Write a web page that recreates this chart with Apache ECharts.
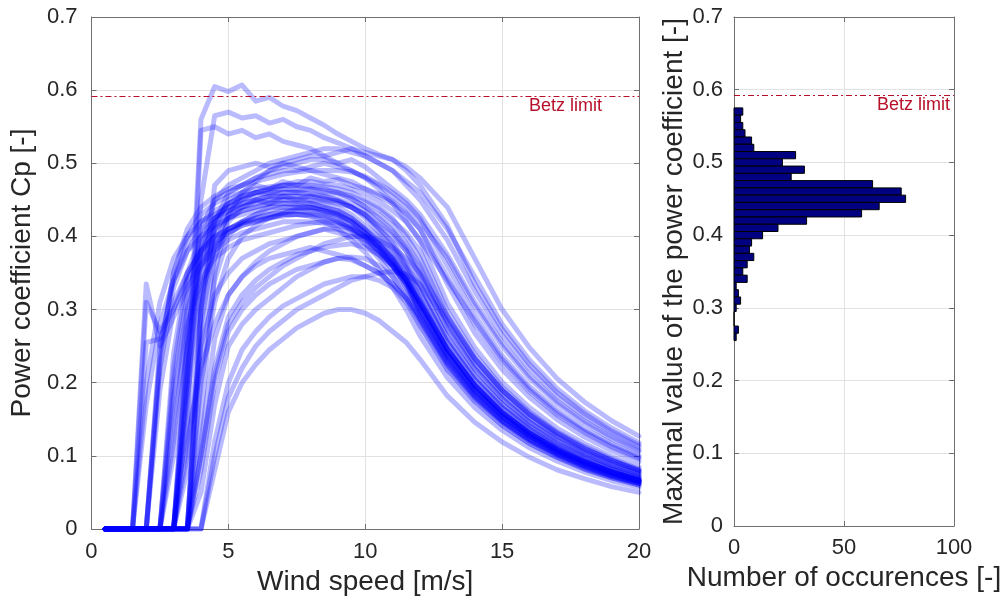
<!DOCTYPE html>
<html><head><meta charset="utf-8">
<script src="https://cdn.jsdelivr.net/npm/echarts@6/dist/echarts.min.js"></script>
<style>html,body{margin:0;padding:0;background:#fff}#c{width:1007px;height:603px}</style>
</head><body><div id="c"></div>
<script>
// ---------- data ----------
const WIND_SPEED = [0.5,1.5,2,2.5,3,3.5,4,4.5,5,5.5,6,6.5,7,7.5,8,8.5,9,9.5,10,10.5,11,11.5,12,13,14,15,16,17,18,19,20];

const CP_CURVES = [
  [0,0,0,0,0,0.2,0.56,0.605,0.598,0.607,0.585,0.59,0.578,0.572,0.562,0.552,0.54,0.53,0.52,0.512,0.505,0.49,0.47,0.415,0.335,0.273,0.225,0.187,0.158,0.134,0.115],
  [0,0,0,0,0,0.15,0.45,0.565,0.57,0.562,0.565,0.555,0.56,0.55,0.545,0.535,0.528,0.52,0.51,0.5,0.49,0.47,0.45,0.395,0.325,0.265,0.219,0.182,0.154,0.131,0.112],
  [0,0,0,0,0,0.15,0.545,0.55,0.54,0.545,0.535,0.54,0.53,0.525,0.52,0.51,0.5,0.49,0.48,0.47,0.455,0.44,0.42,0.37,0.305,0.25,0.206,0.172,0.145,0.123,0.106],
  [0,0,0,0,0.1,0.25,0.38,0.45,0.47,0.48,0.49,0.5,0.505,0.51,0.515,0.52,0.52,0.515,0.51,0.5,0.49,0.475,0.46,0.41,0.345,0.28,0.231,0.192,0.162,0.138,0.118],
  [0,0,0,0,0,0.08,0.3,0.42,0.46,0.47,0.48,0.49,0.495,0.5,0.505,0.505,0.5,0.505,0.495,0.48,0.465,0.45,0.43,0.375,0.31,0.255,0.21,0.175,0.148,0.126,0.108],
  [0,0,0,0,0.12,0.3,0.41,0.45,0.46,0.47,0.48,0.485,0.49,0.49,0.495,0.5,0.495,0.49,0.48,0.465,0.445,0.42,0.395,0.34,0.285,0.232,0.191,0.159,0.134,0.114,0.098],
  [0,0,0,0,0,0,0.15,0.35,0.43,0.46,0.475,0.49,0.5,0.505,0.51,0.51,0.515,0.52,0.515,0.51,0.505,0.495,0.48,0.44,0.37,0.3,0.248,0.206,0.174,0.148,0.127],
  [0,0,0,0.24,0.35,0.41,0.44,0.455,0.465,0.47,0.475,0.48,0.485,0.488,0.49,0.49,0.49,0.488,0.482,0.472,0.46,0.445,0.425,0.36,0.292,0.237,0.195,0.163,0.137,0.117,0.1],
  [0,0,0,0,0,0,0.3,0.41,0.45,0.46,0.47,0.465,0.475,0.47,0.48,0.475,0.478,0.47,0.465,0.458,0.448,0.432,0.41,0.335,0.268,0.218,0.18,0.15,0.126,0.107,0.092],
  [0,0,0,0,0,0,0.3,0.47,0.49,0.495,0.5,0.495,0.5,0.495,0.49,0.485,0.48,0.475,0.465,0.455,0.445,0.43,0.41,0.345,0.28,0.228,0.188,0.156,0.132,0.112,0.096],
  [0,0,0.2,0.31,0.37,0.4,0.42,0.43,0.44,0.445,0.45,0.455,0.455,0.455,0.45,0.448,0.445,0.44,0.43,0.415,0.4,0.38,0.345,0.273,0.219,0.178,0.146,0.122,0.103,0.087,0.075],
  [0,0,0,0.22,0.33,0.38,0.41,0.425,0.435,0.44,0.445,0.45,0.45,0.448,0.445,0.44,0.435,0.425,0.41,0.395,0.375,0.35,0.324,0.255,0.204,0.166,0.137,0.114,0.096,0.082,0.07],
  [0,0,0,0,0.24,0.35,0.4,0.425,0.44,0.45,0.455,0.46,0.46,0.46,0.458,0.455,0.45,0.44,0.43,0.41,0.39,0.36,0.333,0.262,0.21,0.171,0.141,0.117,0.099,0.084,0.072],
  [0,0,0,0,0.2,0.32,0.38,0.41,0.425,0.435,0.44,0.445,0.445,0.443,0.44,0.435,0.428,0.415,0.4,0.38,0.36,0.335,0.301,0.237,0.189,0.154,0.127,0.106,0.089,0.076,0.065],
  [0,0,0,0,0,0.25,0.37,0.42,0.445,0.455,0.46,0.465,0.47,0.47,0.47,0.468,0.465,0.46,0.45,0.44,0.425,0.4,0.37,0.291,0.233,0.19,0.156,0.13,0.11,0.093,0.08],
  [0,0,0,0,0,0.22,0.35,0.4,0.425,0.435,0.44,0.445,0.45,0.45,0.448,0.445,0.44,0.43,0.415,0.4,0.38,0.355,0.315,0.248,0.198,0.161,0.133,0.111,0.093,0.079,0.068],
  [0,0,0,0,0,0.2,0.33,0.385,0.41,0.42,0.43,0.435,0.44,0.44,0.44,0.435,0.43,0.42,0.405,0.385,0.36,0.33,0.287,0.226,0.181,0.147,0.121,0.101,0.085,0.072,0.062],
  [0,0,0,0,0,0,0.26,0.37,0.42,0.44,0.45,0.455,0.46,0.46,0.458,0.455,0.45,0.445,0.435,0.42,0.405,0.38,0.347,0.273,0.219,0.178,0.146,0.122,0.103,0.087,0.075],
  [0,0,0,0,0,0,0.22,0.34,0.4,0.42,0.43,0.44,0.445,0.445,0.445,0.44,0.435,0.425,0.41,0.39,0.37,0.345,0.306,0.24,0.192,0.156,0.129,0.107,0.091,0.077,0.066],
  [0,0,0,0.25,0.34,0.39,0.42,0.435,0.445,0.452,0.46,0.458,0.465,0.462,0.465,0.46,0.458,0.452,0.44,0.43,0.415,0.39,0.361,0.284,0.227,0.185,0.152,0.127,0.107,0.091,0.078],
  [0,0,0,0,0.18,0.3,0.36,0.39,0.41,0.42,0.425,0.43,0.435,0.435,0.432,0.428,0.42,0.408,0.39,0.37,0.345,0.315,0.278,0.218,0.175,0.142,0.117,0.098,0.082,0.07,0.06],
  [0,0,0,0,0,0.24,0.36,0.41,0.43,0.44,0.448,0.452,0.455,0.455,0.455,0.452,0.448,0.44,0.428,0.412,0.392,0.365,0.333,0.262,0.21,0.171,0.141,0.117,0.099,0.084,0.072],
  [0,0,0.17,0.28,0.34,0.38,0.4,0.415,0.425,0.43,0.435,0.44,0.44,0.44,0.438,0.435,0.43,0.42,0.405,0.388,0.37,0.34,0.301,0.237,0.189,0.154,0.127,0.106,0.089,0.076,0.065],
  [0,0,0,0,0,0,0.28,0.39,0.43,0.45,0.46,0.465,0.47,0.475,0.475,0.472,0.47,0.465,0.458,0.448,0.435,0.42,0.394,0.309,0.248,0.201,0.166,0.138,0.117,0.099,0.085],
  [0,0,0,0,0.22,0.34,0.39,0.42,0.435,0.445,0.45,0.445,0.455,0.45,0.455,0.45,0.448,0.44,0.425,0.405,0.385,0.358,0.324,0.255,0.204,0.166,0.137,0.114,0.096,0.082,0.07],
  [0,0,0,0.19,0.3,0.35,0.38,0.4,0.41,0.418,0.422,0.426,0.43,0.43,0.428,0.42,0.41,0.395,0.378,0.355,0.33,0.3,0.264,0.207,0.166,0.135,0.111,0.093,0.078,0.066,0.057],
  [0,0,0,0,0,0.27,0.38,0.425,0.445,0.455,0.46,0.462,0.465,0.465,0.465,0.462,0.46,0.455,0.447,0.437,0.422,0.405,0.38,0.298,0.239,0.194,0.16,0.133,0.113,0.096,0.082],
  [0,0,0,0,0,0,0.2,0.31,0.37,0.4,0.415,0.425,0.432,0.438,0.44,0.438,0.432,0.422,0.408,0.39,0.368,0.34,0.292,0.229,0.184,0.149,0.123,0.103,0.086,0.073,0.063],
  [0,0,0,0,0,0.18,0.32,0.38,0.405,0.415,0.42,0.425,0.428,0.43,0.43,0.428,0.422,0.412,0.398,0.38,0.36,0.335,0.296,0.233,0.186,0.151,0.125,0.104,0.088,0.075,0.064],
  [0,0,0,0.23,0.35,0.4,0.43,0.445,0.455,0.46,0.465,0.468,0.47,0.47,0.468,0.465,0.46,0.452,0.44,0.425,0.408,0.385,0.356,0.28,0.224,0.182,0.15,0.125,0.105,0.09,0.077],
  [0,0,0,0,0,0,0,0.08,0.16,0.2,0.225,0.245,0.26,0.275,0.285,0.295,0.3,0.3,0.295,0.285,0.27,0.255,0.232,0.182,0.146,0.119,0.098,0.081,0.069,0.058,0.05],
  [0,0,0,0,0,0,0,0.12,0.2,0.245,0.27,0.29,0.305,0.315,0.325,0.335,0.34,0.345,0.345,0.34,0.33,0.31,0.278,0.218,0.175,0.142,0.117,0.098,0.082,0.07,0.06],
  [0,0,0,0,0,0,0.05,0.17,0.25,0.28,0.3,0.315,0.33,0.345,0.355,0.365,0.37,0.372,0.37,0.36,0.345,0.32,0.29,0.228,0.182,0.148,0.122,0.102,0.086,0.073,0.063],
  [0,0,0,0,0,0,0.1,0.22,0.29,0.32,0.34,0.355,0.365,0.375,0.38,0.385,0.388,0.39,0.385,0.375,0.36,0.34,0.31,0.245,0.196,0.159,0.131,0.109,0.092,0.078,0.067],
  [0,0,0,0,0,0,0,0.1,0.18,0.22,0.25,0.27,0.285,0.3,0.31,0.32,0.33,0.34,0.345,0.35,0.352,0.348,0.335,0.285,0.232,0.19,0.157,0.131,0.11,0.094,0.08],
  [0,0,0,0,0,0.12,0.22,0.28,0.32,0.345,0.365,0.38,0.39,0.4,0.405,0.41,0.41,0.405,0.395,0.38,0.362,0.34,0.31,0.245,0.196,0.159,0.131,0.109,0.092,0.078,0.067],
  [0,0,0,0,0,0.1,0.25,0.32,0.35,0.37,0.38,0.39,0.395,0.4,0.405,0.41,0.405,0.4,0.39,0.375,0.355,0.33,0.3,0.237,0.189,0.154,0.127,0.106,0.089,0.076,0.065],
  [0,0,0,0,0,0,0.12,0.26,0.32,0.345,0.36,0.37,0.375,0.38,0.385,0.38,0.375,0.37,0.36,0.35,0.335,0.315,0.285,0.224,0.179,0.146,0.12,0.1,0.084,0.072,0.062],
  [0,0,0,0,0.15,0.28,0.34,0.37,0.385,0.395,0.4,0.405,0.41,0.415,0.418,0.42,0.418,0.412,0.4,0.385,0.365,0.34,0.31,0.245,0.196,0.159,0.131,0.109,0.092,0.078,0.067],
  [0,0,0,0,0,0,0.08,0.2,0.27,0.3,0.32,0.335,0.345,0.355,0.36,0.365,0.37,0.368,0.36,0.35,0.335,0.315,0.29,0.23,0.184,0.149,0.123,0.103,0.086,0.073,0.063],
  [0,0,0,0,0,0,0.1,0.21,0.28,0.31,0.33,0.345,0.36,0.37,0.38,0.39,0.395,0.4,0.4,0.395,0.385,0.37,0.35,0.29,0.234,0.19,0.157,0.131,0.11,0.094,0.08],
  [0,0,0.335,0.25,0.29,0.33,0.36,0.38,0.395,0.405,0.41,0.415,0.42,0.42,0.42,0.418,0.415,0.41,0.4,0.385,0.365,0.34,0.31,0.245,0.196,0.159,0.131,0.109,0.092,0.078,0.067],
  [0,0,0.31,0.27,0.3,0.34,0.37,0.39,0.405,0.415,0.42,0.425,0.43,0.43,0.428,0.425,0.42,0.41,0.398,0.38,0.36,0.335,0.306,0.24,0.192,0.156,0.129,0.107,0.091,0.077,0.066],
  [0,0,0.255,0.26,0.31,0.35,0.38,0.4,0.41,0.418,0.425,0.43,0.432,0.435,0.435,0.432,0.428,0.42,0.405,0.39,0.37,0.345,0.31,0.245,0.196,0.159,0.131,0.109,0.092,0.078,0.067]
];

const BETZ_LIMIT = 0.5926;
const BETZ_LABEL = 'Betz limit';

const HIST_CP = [0.57,0.56,0.55,0.54,0.53,0.52,0.51,0.50,0.49,0.48,0.47,0.46,0.45,0.44,0.43,0.42,0.41,0.40,0.39,0.38,0.37,0.36,0.35,0.34,0.33,0.32,0.31,0.30,0.29,0.28,0.27,0.26];
const HIST_COUNT = [4,3,4,5,8,9,28,22,32,26,63,76,78,66,58,33,20,13,8,7,9,6,4,6,1,2,3,1,0,0,2,1];
const HIST_BIN = 0.01;

// ---------- chart ----------
const FONT = '"Liberation Sans", Arial, Helvetica, sans-serif';
const TXT = '#262626';
const AX = '#6f6f6f';
const GRIDC = '#e2e2e2';
const BETZ_COLOR = '#b8102a';

function axis(o) {
  return Object.assign({
    type: 'value',
    axisLine: {show: true, onZero: false, lineStyle: {color: AX, width: 1}},
    axisTick: {show: true, inside: true, length: 5, lineStyle: {color: AX}},
    axisLabel: {color: TXT, fontSize: 22, fontFamily: FONT},
    splitLine: {show: true, lineStyle: {color: GRIDC, width: 1}},
    nameLocation: 'middle',
    nameTextStyle: {color: TXT, fontSize: 28, fontFamily: FONT}
  }, o);
}
function boxAxis(o) {
  return Object.assign(axis({}), {
    axisLabel: {show: false},
    splitLine: {show: false}
  }, o);
}
const cpFmt = v => (v === 0 ? '0' : v.toFixed(1));

const series = CP_CURVES.map(c => ({
  type: 'line',
  xAxisIndex: 0, yAxisIndex: 0,
  data: WIND_SPEED.map((x, i) => [x, c[i]]),
  symbol: 'none', silent: true,
  lineStyle: {color: 'rgba(0,0,255,0.27)', width: 5, cap: 'round', join: 'round'},
  z: 3
}));

function betzSeries(xi, yi, padRight) {
  return {
    type: 'custom', xAxisIndex: xi, yAxisIndex: yi,
    data: [[0, BETZ_LIMIT]],
    encode: {x: 0, y: 1},
    silent: true, z: 6,
    renderItem: function (params, api) {
      const cs = params.coordSys;
      const yRaw = api.coord([0, api.value(1)])[1];
      const y = Math.round(yRaw) + 0.5;
      return {
        type: 'group',
        children: [
          {type: 'line', shape: {x1: cs.x, y1: y, x2: cs.x + cs.width, y2: y},
           style: {stroke: BETZ_COLOR, lineWidth: 1, lineDash: [6, 3, 2, 3], fill: null}},
          {type: 'text', x: cs.x + cs.width - padRight, y: y + 1,
           style: {text: BETZ_LABEL, fill: BETZ_COLOR, fontSize: 18, fontFamily: FONT,
                   align: 'right', verticalAlign: 'top'}}
        ]
      };
    }
  };
}
series.push(betzSeries(0, 0, 37));

series.push({
  type: 'custom',
  xAxisIndex: 2, yAxisIndex: 2,
  data: HIST_CP.map((c, i) => [HIST_COUNT[i], c]),
  encode: {x: 0, y: 1},
  silent: true,
  z: 3,
  renderItem: function (params, api) {
    const n = api.value(0), c = api.value(1);
    const p0 = api.coord([0, c + HIST_BIN / 2]);
    const p1 = api.coord([n, c - HIST_BIN / 2]);
    return {
      type: 'rect',
      shape: {x: p0[0], y: p0[1], width: p1[0] - p0[0], height: p1[1] - p0[1]},
      style: {fill: '#000080', stroke: '#000000', lineWidth: 1}
    };
  }
});
series.push(betzSeries(2, 2, 4));

const option = {
  animation: false,
  backgroundColor: '#ffffff',
  grid: [
    {left: 86, top: 17, width: 553, height: 512},
    {left: 734, top: 17, width: 220, height: 509}
  ],
  xAxis: [
    axis({gridIndex: 0, min: 0, max: 20, interval: 5, name: 'Wind speed [m/s]', nameGap: 38,
          axisLabel: {color: TXT, fontSize: 22, fontFamily: FONT, margin: 12}}),
    boxAxis({gridIndex: 0, position: 'top', min: 0, max: 20, interval: 5}),
    axis({gridIndex: 1, min: 0, max: 100, interval: 50, name: 'Number of occurences [-]', nameGap: 38,
          axisLabel: {color: TXT, fontSize: 22, fontFamily: FONT, margin: 11}}),
    boxAxis({gridIndex: 1, position: 'top', min: 0, max: 100, interval: 50})
  ],
  yAxis: [
    axis({gridIndex: 0, min: 0, max: 0.7, interval: 0.1, name: 'Power coefficient Cp [-]', nameGap: 37,
          axisLabel: {color: TXT, fontSize: 22, fontFamily: FONT, margin: 14, formatter: cpFmt}}),
    boxAxis({gridIndex: 0, position: 'right', min: 0, max: 0.7, interval: 0.1}),
    axis({gridIndex: 1, min: 0, max: 0.7, interval: 0.1, name: 'Maximal value of the power coefficient [-]', nameGap: 44,
          axisLabel: {color: TXT, fontSize: 22, fontFamily: FONT, margin: 11, formatter: cpFmt}}),
    boxAxis({gridIndex: 1, position: 'right', min: 0, max: 0.7, interval: 0.1})
  ],
  series: series
};

const chart = echarts.init(document.getElementById('c'), null, {renderer: 'canvas'});
chart.setOption(option);
</script>
</body></html>
